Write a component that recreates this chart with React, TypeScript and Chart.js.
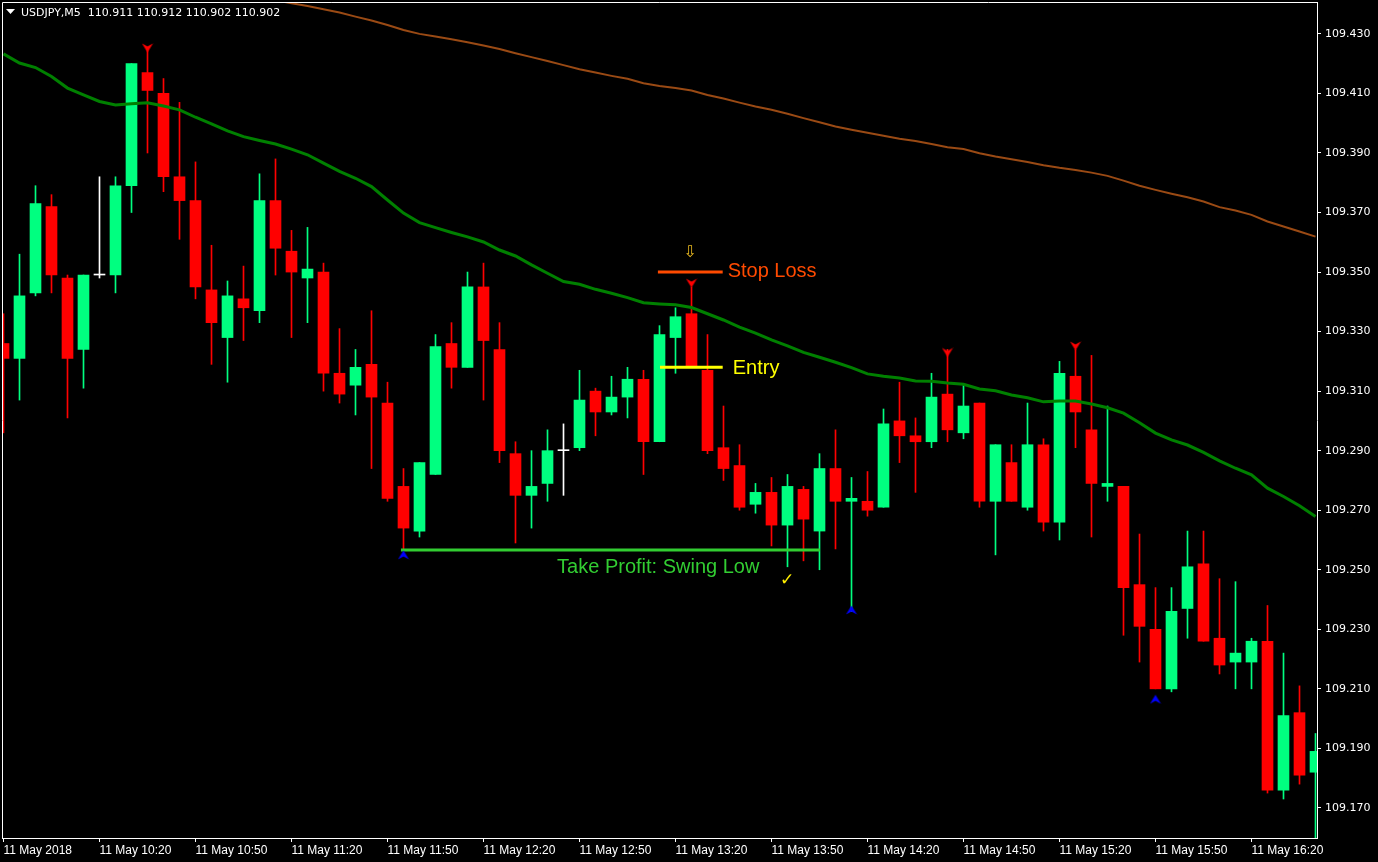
import React, { useEffect, useRef } from 'react';
import { Chart, registerables } from 'chart.js';

Chart.register(...registerables);

const chartTitle = 'USDJPY,M5  110.911 110.912 110.902 110.902';

// OHLC per 5-minute candle, starting 11 May 09:50
const opens = [109.326, 109.321, 109.343, 109.372, 109.348, 109.324, 109.349, 109.349, 109.379, 109.417, 109.410, 109.382, 109.374, 109.344, 109.328, 109.341, 109.337, 109.374, 109.357, 109.348, 109.350, 109.316, 109.312, 109.319, 109.306, 109.278, 109.263, 109.282, 109.326, 109.318, 109.345, 109.324, 109.289, 109.275, 109.279, 109.290, 109.291, 109.310, 109.303, 109.308, 109.314, 109.293, 109.328, 109.336, 109.317, 109.291, 109.285, 109.272, 109.276, 109.265, 109.277, 109.263, 109.284, 109.273, 109.273, 109.271, 109.300, 109.295, 109.293, 109.309, 109.296, 109.306, 109.273, 109.286, 109.271, 109.292, 109.266, 109.315, 109.297, 109.278, 109.278, 109.245, 109.230, 109.210, 109.237, 109.252, 109.227, 109.219, 109.219, 109.226, 109.176, 109.202, 109.182];
const highs = [109.336, 109.356, 109.379, 109.376, 109.349, 109.349, 109.382, 109.382, 109.420, 109.425, 109.415, 109.407, 109.387, 109.359, 109.347, 109.352, 109.383, 109.388, 109.364, 109.365, 109.353, 109.331, 109.324, 109.337, 109.313, 109.284, 109.286, 109.329, 109.333, 109.350, 109.353, 109.333, 109.293, 109.290, 109.297, 109.299, 109.317, 109.311, 109.315, 109.318, 109.317, 109.332, 109.338, 109.345, 109.329, 109.305, 109.292, 109.279, 109.281, 109.282, 109.278, 109.289, 109.297, 109.281, 109.283, 109.304, 109.313, 109.301, 109.316, 109.324, 109.312, 109.306, 109.292, 109.292, 109.306, 109.294, 109.320, 109.324, 109.322, 109.305, 109.278, 109.262, 109.244, 109.244, 109.263, 109.263, 109.247, 109.246, 109.227, 109.238, 109.222, 109.211, 109.195];
const lows = [109.296, 109.307, 109.342, 109.343, 109.301, 109.311, 109.348, 109.343, 109.370, 109.390, 109.377, 109.361, 109.341, 109.319, 109.313, 109.327, 109.333, 109.349, 109.328, 109.333, 109.310, 109.306, 109.302, 109.284, 109.273, 109.257, 109.261, 109.282, 109.311, 109.318, 109.307, 109.286, 109.259, 109.264, 109.273, 109.275, 109.290, 109.295, 109.302, 109.301, 109.282, 109.293, 109.316, 109.318, 109.289, 109.280, 109.270, 109.269, 109.258, 109.251, 109.253, 109.250, 109.257, 109.236, 109.268, 109.271, 109.286, 109.276, 109.291, 109.293, 109.294, 109.271, 109.255, 109.273, 109.270, 109.263, 109.260, 109.291, 109.261, 109.273, 109.228, 109.219, 109.210, 109.209, 109.227, 109.226, 109.215, 109.210, 109.210, 109.175, 109.173, 109.178, 109.155];
const closes = [109.321, 109.342, 109.373, 109.349, 109.321, 109.349, 109.349, 109.379, 109.420, 109.411, 109.382, 109.374, 109.345, 109.333, 109.342, 109.338, 109.374, 109.358, 109.350, 109.351, 109.316, 109.309, 109.318, 109.308, 109.274, 109.264, 109.286, 109.325, 109.318, 109.345, 109.327, 109.290, 109.275, 109.278, 109.290, 109.290, 109.307, 109.303, 109.308, 109.314, 109.293, 109.329, 109.335, 109.318, 109.290, 109.284, 109.271, 109.276, 109.265, 109.278, 109.267, 109.284, 109.273, 109.274, 109.270, 109.299, 109.295, 109.293, 109.308, 109.297, 109.305, 109.273, 109.292, 109.273, 109.292, 109.266, 109.316, 109.303, 109.279, 109.279, 109.244, 109.231, 109.210, 109.236, 109.251, 109.226, 109.218, 109.222, 109.226, 109.176, 109.201, 109.181, 109.189];

// Moving averages
const maGreen = [109.4233, 109.4202, 109.4187, 109.4157, 109.4118, 109.4095, 109.4073, 109.4061, 109.4065, 109.4069, 109.4058, 109.4045, 109.4020, 109.3998, 109.3974, 109.3955, 109.3942, 109.3930, 109.3913, 109.3894, 109.3866, 109.3838, 109.3815, 109.3787, 109.3742, 109.3698, 109.3666, 109.3649, 109.3633, 109.3618, 109.3601, 109.3574, 109.3554, 109.3524, 109.3496, 109.3468, 109.3459, 109.3442, 109.3429, 109.3414, 109.3397, 109.3393, 109.3390, 109.3381, 109.3360, 109.3339, 109.3315, 109.3295, 109.3272, 109.3252, 109.3230, 109.3214, 109.3197, 109.3179, 109.3158, 109.3150, 109.3144, 109.3134, 109.3133, 109.3127, 109.3123, 109.3107, 109.3101, 109.3087, 109.3078, 109.3064, 109.3067, 109.3067, 109.3057, 109.3044, 109.3026, 109.2994, 109.2959, 109.2936, 109.2919, 109.2894, 109.2866, 109.2841, 109.2819, 109.2774, 109.2746, 109.2715, 109.2679];
const maBrown = [null, null, null, null, null, null, null, null, null, null, null, null, null, null, null, null, null, 109.4413, 109.4403, 109.4394, 109.4383, 109.4372, 109.4358, 109.4345, 109.4330, 109.4313, 109.4300, 109.4291, 109.4282, 109.4272, 109.4261, 109.4249, 109.4235, 109.4222, 109.4209, 109.4195, 109.4181, 109.4170, 109.4159, 109.4149, 109.4134, 109.4125, 109.4118, 109.4110, 109.4095, 109.4083, 109.4069, 109.4056, 109.4045, 109.4032, 109.4017, 109.4003, 109.3989, 109.3978, 109.3968, 109.3958, 109.3948, 109.3940, 109.3930, 109.3919, 109.3913, 109.3899, 109.3888, 109.3879, 109.3870, 109.3859, 109.3850, 109.3843, 109.3834, 109.3823, 109.3807, 109.3790, 109.3776, 109.3763, 109.3751, 109.3737, 109.3718, 109.3707, 109.3692, 109.3670, 109.3653, 109.3636, 109.3619];

const timeTickIndex = [0, 6, 12, 18, 24, 30, 36, 42, 48, 54, 60, 66, 72, 78];
const timeTickLabels = ['11 May 2018', '11 May 10:20', '11 May 10:50', '11 May 11:20', '11 May 11:50', '11 May 12:20', '11 May 12:50', '11 May 13:20', '11 May 13:50', '11 May 14:20', '11 May 14:50', '11 May 15:20', '11 May 15:50', '11 May 16:20'];
const priceTicks = [109.170, 109.190, 109.210, 109.230, 109.250, 109.270, 109.290, 109.310, 109.330, 109.350, 109.370, 109.390, 109.410, 109.430];

// Fractal markers: [candle index, price]
const fractalHighs = [[9, 109.4253], [43, 109.3463], [59, 109.3230], [67, 109.3252]];
const fractalLows = [[25, 109.2550], [53, 109.2365], [72, 109.2065]];

// Trade levels: [from index, to index, price]
const stopLossLevel = [40.9, 44.95, 109.350];
const entryLevel = [41.03, 44.95, 109.318];
const takeProfitLevel = [24.84, 51.03, 109.2566];

// Text annotations: text, index, price (baseline)
const levelTexts = [
  { text: 'Stop Loss', x: 45.26, y: 109.3484, color: '#ff4a00', align: 'left' },
  { text: 'Entry', x: 45.58, y: 109.3158, color: '#ffff00', align: 'left' },
  { text: 'Take Profit: Swing Low', x: 34.6, y: 109.2488, color: '#32cd32', align: 'left' },
];
const symbolMarks = [
  { text: '\u21E9', x: 42.9, y: 109.3566, color: '#e8b820', size: 16 },
  { text: '\u2713', x: 48.97, y: 109.2463, color: '#ffee00', size: 17 },
];

const BULL = '#00ff80';
const BEAR = '#ff0000';
const DOJI = '#ffffff';

function makeArrow(color: string, down: boolean): HTMLCanvasElement {
  const c = document.createElement('canvas');
  c.width = 12;
  c.height = 10;
  const g = c.getContext('2d')!;
  g.fillStyle = color;
  g.beginPath();
  if (down) {
    g.moveTo(0.5, 0.5);
    g.lineTo(6, 3.5);
    g.lineTo(11.5, 0.5);
    g.lineTo(6, 9.5);
  } else {
    g.moveTo(0.5, 9.5);
    g.lineTo(6, 6.5);
    g.lineTo(11.5, 9.5);
    g.lineTo(6, 0.5);
  }
  g.closePath();
  g.fill();
  return c;
}

export default function App() {
  const ref = useRef<HTMLCanvasElement | null>(null);

  useEffect(() => {
    if (!ref.current) return;
    const colors = opens.map((o, i) => (closes[i] > o ? BULL : closes[i] < o ? BEAR : DOJI));
    const bodies = opens.map((o, i) => ({ x: i, y: [o, closes[i]] }));
    const wicks = lows.map((l, i) => ({ x: i, y: [l, highs[i]] }));
    const levelLine = (lv: number[]) => [{ x: lv[0], y: lv[2] }, { x: lv[1], y: lv[2] }];

    const framePlugin = {
      id: 'frame',
      afterDraw(chart: any) {
        const { ctx, chartArea } = chart;
        const xs = chart.scales.x;
        const ys = chart.scales.y;
        ctx.save();
        ctx.font = '20px "Liberation Sans", Arial, sans-serif';
        ctx.textBaseline = 'alphabetic';
        levelTexts.forEach((t) => {
          ctx.fillStyle = t.color;
          ctx.textAlign = t.align;
          ctx.fillText(t.text, xs.getPixelForValue(t.x), ys.getPixelForValue(t.y));
        });
        symbolMarks.forEach((m) => {
          ctx.font = `${m.size}px "DejaVu Sans", sans-serif`;
          ctx.fillStyle = m.color;
          ctx.textAlign = 'center';
          ctx.textBaseline = 'middle';
          ctx.fillText(m.text, xs.getPixelForValue(m.x), ys.getPixelForValue(m.y));
        });
        ctx.strokeStyle = '#ffffff';
        ctx.lineWidth = 1;
        ctx.beginPath();
        ctx.moveTo(chartArea.left + 0.5, chartArea.bottom);
        ctx.lineTo(chartArea.left + 0.5, chartArea.top + 0.5);
        ctx.lineTo(chartArea.right, chartArea.top + 0.5);
        ctx.stroke();
        ctx.fillStyle = '#ffffff';
        ctx.beginPath();
        ctx.moveTo(6, 9);
        ctx.lineTo(15, 9);
        ctx.lineTo(10.5, 14);
        ctx.closePath();
        ctx.fill();
        ctx.font = '11px "DejaVu Sans", sans-serif';
        ctx.textAlign = 'left';
        ctx.textBaseline = 'middle';
        ctx.fillText(chartTitle, 21, 13);
        ctx.restore();
      },
    };

    const chart = new Chart(ref.current, {
      type: 'bar',
      data: {
        datasets: [
          { type: 'line', data: maGreen.map((v, i) => ({ x: i, y: v })), borderColor: '#008000', borderWidth: 3, pointRadius: 0, tension: 0, order: 0 } as any,
          { type: 'line', data: maBrown.map((v, i) => ({ x: i, y: v })), borderColor: '#9a4a14', borderWidth: 2, pointRadius: 0, tension: 0, order: 0, spanGaps: false } as any,
          { type: 'line', data: levelLine(stopLossLevel), borderColor: '#ff4a00', borderWidth: 3, pointRadius: 0, order: 0 } as any,
          { type: 'line', data: levelLine(entryLevel), borderColor: '#ffff00', borderWidth: 3, pointRadius: 0, order: 0 } as any,
          { type: 'line', data: levelLine(takeProfitLevel), borderColor: '#32cd32', borderWidth: 3, pointRadius: 0, order: 0 } as any,
          { type: 'scatter', data: fractalHighs.map((f) => ({ x: f[0], y: f[1] })), pointStyle: makeArrow('#ff0000', true), order: -1 } as any,
          { type: 'scatter', data: fractalLows.map((f) => ({ x: f[0], y: f[1] })), pointStyle: makeArrow('#0000ff', false), order: -1 } as any,
          { type: 'bar', data: bodies, backgroundColor: colors, borderWidth: 0, grouped: false, barThickness: 11, maxBarThickness: 11, minBarLength: 1, order: 1 } as any,
          { type: 'bar', data: wicks, backgroundColor: colors, borderWidth: 0, grouped: false, barThickness: 1, maxBarThickness: 1, order: 2 } as any,
        ],
      },
      options: {
        animation: false,
        responsive: false,
        events: [],
        layout: { autoPadding: false, padding: { left: 2, top: 2, right: 0, bottom: 0 } },
        plugins: { legend: { display: false }, tooltip: { enabled: false } },
        scales: {
          x: {
            type: 'linear',
            position: 'bottom',
            offset: false,
            min: -0.09375,
            max: 82.09375,
            afterBuildTicks: (s: any) => {
              s.ticks = timeTickIndex.map((v) => ({ value: v }));
            },
            afterFit: (s: any) => {
              s.height = 24;
              s.paddingLeft = 0;
              s.paddingRight = 0;
            },
            ticks: {
              autoSkip: false,
              maxRotation: 0,
              minRotation: 0,
              align: 'start',
              color: '#ffffff',
              padding: 1,
              font: { family: '"Liberation Sans", Arial, sans-serif', size: 12 },
              callback: (_v: any, idx: number) => timeTickLabels[idx],
            },
            grid: { drawOnChartArea: false, offset: false, color: '#ffffff', tickLength: 4 },
            border: { display: true, color: '#ffffff' },
          },
          y: {
            type: 'linear',
            position: 'right',
            min: 109.1599,
            max: 109.44071,
            afterBuildTicks: (s: any) => {
              s.ticks = priceTicks.map((v) => ({ value: v }));
            },
            afterFit: (s: any) => {
              s.width = 61;
              s.paddingTop = 0;
              s.paddingBottom = 0;
            },
            ticks: {
              color: '#ffffff',
              padding: 4,
              font: { family: '"DejaVu Sans", sans-serif', size: 11 },
              callback: (v: any) => Number(v).toFixed(3),
            },
            grid: { drawOnChartArea: false, color: '#ffffff', tickLength: 4 },
            border: { display: true, color: '#ffffff' },
          },
        },
      } as any,
      plugins: [framePlugin],
    });
    return () => chart.destroy();
  }, []);

  return (
    <div style={{ position: 'fixed', left: 0, top: 0, width: 1378, height: 862, background: '#000000' }}>
      <canvas ref={ref} width={1378} height={862} style={{ display: 'block', width: 1378, height: 862 }} />
    </div>
  );
}
